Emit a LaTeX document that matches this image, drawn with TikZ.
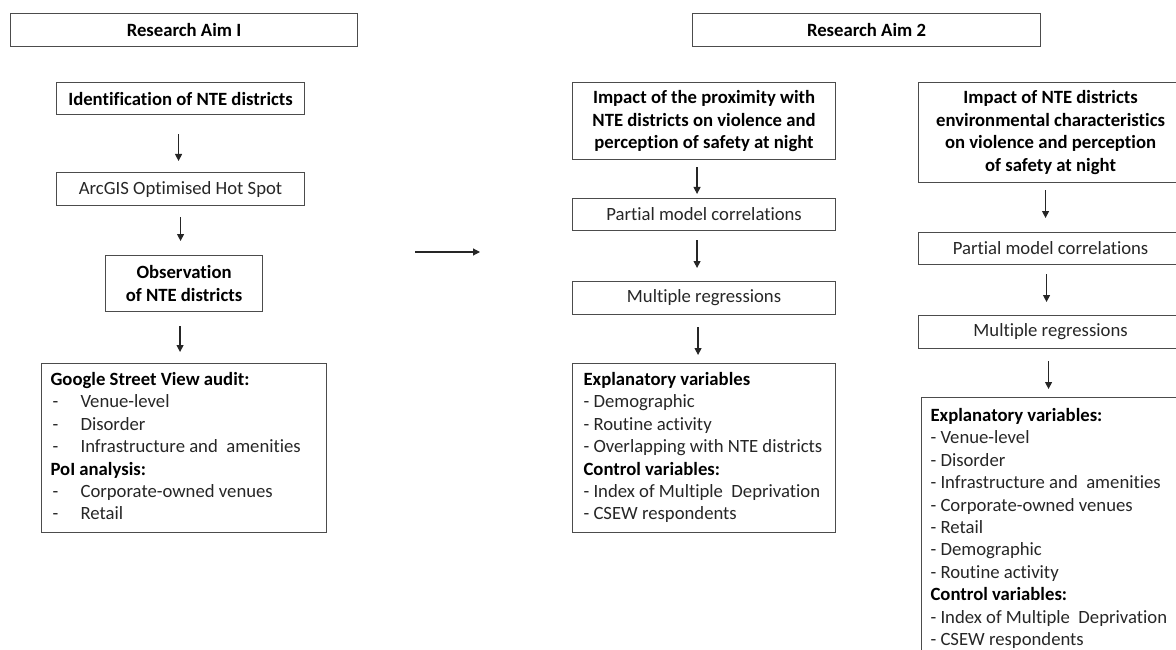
\documentclass[tikz,border=0pt]{standalone}
\usepackage{fontspec}
\setmainfont{Carlito}[Ligatures=NoCommon]
\usetikzlibrary{arrows.meta,calc}
\newcommand{\dsh}[1]{\makebox[30pt][l]{\hspace{2pt}-}#1}
\newcommand{\hd}[1]{\textbf{\color{black}#1}}
\tikzset{
  box/.style={draw=black!70, line width=1.1pt, inner sep=0pt, anchor=north west,
    font=\fontsize{18.7}{22.4}\selectfont, text=black!85, align=center},
  bbox/.style={box, font=\fontsize{18.7}{22.4}\selectfont\bfseries, text=black},
  arr/.style={-{Triangle[length=7pt,width=7pt]}, line width=1.2pt, draw=black!85}
}
\begin{document}
\begin{tikzpicture}[x=1pt,y=-1pt]
\useasboundingbox (0,0) rectangle (1176,650);
\clip (0,0) rectangle (1176,650);
% titles
\node[bbox, minimum width=347pt, minimum height=33pt] (aim1) at (10,13) {Research Aim I};
\node[bbox, minimum width=348pt, minimum height=33pt] (aim2) at (692,13) {Research Aim 2};
% left column
\node[bbox, minimum width=248pt, minimum height=32pt] (ident) at (56,82) {Identification of NTE districts};
\node[box, minimum width=248pt, minimum height=33pt] (arc) at (56,172) {ArcGIS Optimised Hot Spot};
\node[bbox, minimum width=157pt, minimum height=56pt] (obs) at (105,255) {Observation\\of NTE districts};
\node[box, align=left] (gsv) at (41,363) {\begin{minipage}[c][169pt][t]{285pt}\setlength{\parindent}{0pt}\leftskip=9pt
\rule{0pt}{22pt}\hd{Google Street View audit:}\\
\dsh{Venue-level}\\
\dsh{Disorder}\\
\dsh{Infrastructure and\ \ amenities}\\
\hd{PoI analysis:}\\
\dsh{Corporate-owned venues}\\
\dsh{Retail}\end{minipage}};
% middle column
\node[bbox, minimum width=263pt, minimum height=77pt] (imp1) at (572,82) {Impact of the proximity with\\NTE districts on violence and\\perception of safety at night};
\node[box, minimum width=263pt, minimum height=32pt] (pmc1) at (572,198) {Partial model correlations};
\node[box, minimum width=263pt, minimum height=33pt] (mr1) at (572,281) {Multiple regressions};
\node[box, align=left] (ev1) at (572,363) {\begin{minipage}[c][169pt][t]{263pt}\setlength{\parindent}{0pt}\leftskip=11pt
\rule{0pt}{22pt}\hd{Explanatory variables}\\
- Demographic\\
- Routine activity\\
- Overlapping with NTE districts\\
\hd{Control variables:}\\
- Index of Multiple\ \ Deprivation\\
- CSEW respondents\end{minipage}};
% right column
\node[bbox, minimum width=264pt, minimum height=100pt, font=\fontsize{18.7}{22.8}\selectfont\bfseries] (imp2) at (918,82) {Impact of NTE districts\\environmental characteristics\\on violence and perception\\of safety at night};
\node[box, minimum width=264pt, minimum height=32pt] (pmc2) at (918,232) {Partial model correlations};
\node[box, minimum width=264pt, minimum height=33pt] (mr2) at (918,315) {Multiple regressions};
\node[box, align=left] (ev2) at (921,397) {\begin{minipage}[c][280pt][t]{262pt}\setlength{\parindent}{0pt}\leftskip=9pt
\rule{0pt}{24pt}\hd{Explanatory variables:}\\
- Venue-level\\
- Disorder\\
- Infrastructure and\ \ amenities\\
- Corporate-owned venues\\
- Retail\\
- Demographic\\
- Routine activity\\
\hd{Control variables:}\\
- Index of Multiple\ \ Deprivation\\
- CSEW respondents\end{minipage}};
% arrows left
\draw[arr, shorten <=19pt, shorten >=11pt] ([xshift=-2pt]ident.south) -- ([xshift=-2pt]arc.north);
\draw[arr, shorten <=11pt, shorten >=14pt] (arc.south) -- (arc.south |- obs.north);
\draw[arr, shorten <=14pt, shorten >=11pt] ([xshift=-4pt]obs.south) -- ([xshift=-4pt]obs.south |- gsv.north);
% arrows middle
\draw[arr, shorten <=7pt, shorten >=4pt] ([xshift=-7pt]imp1.south) -- ([xshift=-7pt]pmc1.north);
\draw[arr, shorten <=9pt, shorten >=13pt] ([xshift=-7pt]pmc1.south) -- ([xshift=-7pt]mr1.north);
\draw[arr, shorten <=12pt, shorten >=8pt] ([xshift=-6pt]mr1.south) -- ([xshift=-6pt]mr1.south |- ev1.north);
% arrows right
\draw[arr, shorten <=7pt, shorten >=14pt] ([xshift=-5pt]imp2.south) -- ([xshift=-5pt]pmc2.north);
\draw[arr, shorten <=9pt, shorten >=13pt] ([xshift=-4pt]pmc2.south) -- ([xshift=-4pt]mr2.north);
\draw[arr, shorten <=12pt, shorten >=8pt] ([xshift=-2pt]mr2.south) -- ([xshift=-2pt]mr2.south |- ev2.north);
% link arrow
\coordinate (h1) at (415,252);
\coordinate (h2) at (480,252);
\draw[arr] (h1) -- (h2);
\end{tikzpicture}
\end{document}
